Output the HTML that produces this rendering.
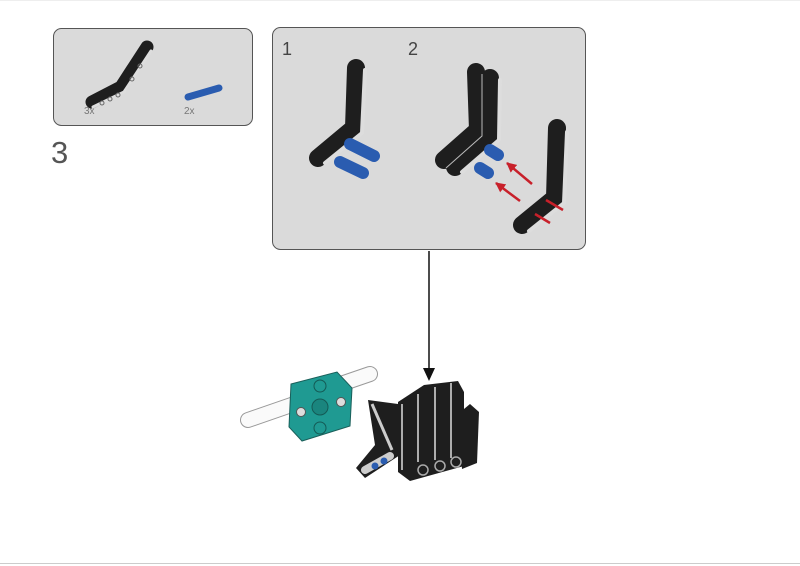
<!DOCTYPE html>
<html><head><meta charset="utf-8"><style>
html,body{margin:0;padding:0;background:#fff;}
svg{display:block;}
text{font-family:"Liberation Sans",sans-serif;}
</style></head><body>
<svg width="800" height="566" viewBox="0 0 800 566" xmlns="http://www.w3.org/2000/svg">
<defs>
<marker id="ah" viewBox="0 0 10 10" refX="9" refY="5" markerWidth="4" markerHeight="4" orient="auto"><path d="M0,0L10,5L0,10z" fill="#c8202a"/></marker>
</defs>
<rect width="800" height="566" fill="#fff"/>
<line x1="0" y1="563.5" x2="800" y2="563.5" stroke="#ccc"/>
<line x1="0" y1="0.5" x2="800" y2="0.5" stroke="#eee"/>

<!-- Panel 1 -->
<rect x="53.5" y="28.5" width="199" height="97" rx="8" fill="#dadada" stroke="#555"/>
<polyline points="92,102 121,87 147,47" fill="none" stroke="#1e1e1e" stroke-width="13" stroke-linecap="round" stroke-linejoin="round"/>
<polyline points="93,107 124,92 151,51" fill="none" stroke="#ddd" stroke-width="3" stroke-linecap="round" stroke-linejoin="round"/>
<g fill="none" stroke="#666" stroke-width="1"><circle cx="102" cy="103" r="2"/><circle cx="110" cy="99" r="2"/><circle cx="118" cy="95" r="2"/><circle cx="132" cy="79" r="2"/><circle cx="140" cy="66" r="2"/></g>
<line x1="188" y1="97" x2="219" y2="88" stroke="#2a5cb0" stroke-width="7" stroke-linecap="round"/>
<text x="84" y="114" font-size="10" fill="#777">3x</text>
<text x="184" y="114" font-size="10" fill="#777">2x</text>
<text x="51" y="163" font-size="31" fill="#555">3</text>

<!-- Panel 2 -->
<rect x="272.5" y="27.5" width="313" height="222" rx="8" fill="#dadada" stroke="#555"/>
<text x="282" y="55" font-size="18" fill="#444">1</text>
<text x="408" y="55" font-size="18" fill="#444">2</text>
<!-- step1 beam -->
<polyline points="318,158 354,128 356,68" fill="none" stroke="#1e1e1e" stroke-width="18" stroke-linecap="round" stroke-linejoin="round"/>
<polyline points="325,163 362,133 365,70" fill="none" stroke="#ddd" stroke-width="4" stroke-linecap="round" stroke-linejoin="round"/>
<line x1="350" y1="144" x2="374" y2="156" stroke="#2a5cb0" stroke-width="12" stroke-linecap="round"/>
<line x1="340" y1="162" x2="363" y2="173" stroke="#2a5cb0" stroke-width="12" stroke-linecap="round"/>
<!-- step2 double beam -->
<polyline points="444,160 478,130 476,72" fill="none" stroke="#1e1e1e" stroke-width="18" stroke-linecap="round" stroke-linejoin="round"/>
<polyline points="455,167 490,136 490,78" fill="none" stroke="#1e1e1e" stroke-width="18" stroke-linecap="round" stroke-linejoin="round"/>
<polyline points="446,168 482,136 482,74" fill="none" stroke="#bbb" stroke-width="1"/>
<polyline points="462,172 499,140 500,80" fill="none" stroke="#ddd" stroke-width="4" stroke-linecap="round" stroke-linejoin="round"/>
<line x1="490" y1="150" x2="498" y2="155" stroke="#2a5cb0" stroke-width="12" stroke-linecap="round"/>
<line x1="480" y1="168" x2="488" y2="173" stroke="#2a5cb0" stroke-width="12" stroke-linecap="round"/>
<!-- right beam -->
<polyline points="522,225 555,198 557,128" fill="none" stroke="#1e1e1e" stroke-width="18" stroke-linecap="round" stroke-linejoin="round"/>
<polyline points="529,231 564,203 567,132" fill="none" stroke="#ddd" stroke-width="4" stroke-linecap="round" stroke-linejoin="round"/>
<!-- red arrows -->
<g stroke="#c8202a" stroke-width="2.5">
<line x1="532" y1="184" x2="507" y2="163" marker-end="url(#ah)"/>
<line x1="520" y1="201" x2="496" y2="183" marker-end="url(#ah)"/>
<line x1="563" y1="210" x2="546" y2="200"/>
<line x1="550" y1="223" x2="535" y2="214"/>
</g>

<!-- connector arrow -->
<line x1="429" y1="251" x2="429" y2="372" stroke="#111" stroke-width="1.5"/>
<path d="M423,368 L435,368 L429,381 z" fill="#111"/>

<!-- bottom assembly -->
<g>
<line x1="248" y1="420" x2="300" y2="402" stroke="#999" stroke-width="16" stroke-linecap="round"/>
<line x1="248" y1="420" x2="300" y2="402" stroke="#fafafa" stroke-width="14" stroke-linecap="round"/>
<line x1="335" y1="386" x2="370" y2="374" stroke="#999" stroke-width="16" stroke-linecap="round"/>
<line x1="335" y1="386" x2="370" y2="374" stroke="#fafafa" stroke-width="14" stroke-linecap="round"/>
<!-- back beam -->
<path d="M368,400 L398,404 L400,455 L365,478 L356,468 L375,445 z" fill="#1e1e1e"/>
<line x1="365" y1="470" x2="390" y2="456" stroke="#ccc" stroke-width="8" stroke-linecap="round"/>
<circle cx="375" cy="466" r="3.5" fill="#2a5cb0"/><circle cx="384" cy="461" r="3.5" fill="#2a5cb0"/>
<line x1="372" y1="404" x2="392" y2="450" stroke="#ccc" stroke-width="3"/>
<!-- teal block -->
<path d="M291,384 L337,372 L352,388 L350,426 L302,441 L289,427 z" fill="#1f9a92" stroke="#1a5f5a"/>
<circle cx="320" cy="407" r="8" fill="#1a857e" stroke="#145a55"/>
<circle cx="320" cy="386" r="6" fill="none" stroke="#145a55"/>
<circle cx="320" cy="428" r="6" fill="none" stroke="#145a55"/>
<circle cx="301" cy="412" r="4.5" fill="#ddd" stroke="#555"/>
<circle cx="341" cy="402" r="4.5" fill="#ddd" stroke="#555"/>
<!-- front black stacked beams -->
<path d="M398,402 L424,385 L458,381 L464,392 L464,466 L410,481 L398,472 z" fill="#1e1e1e"/>
<path d="M458,414 L470,404 L479,412 L477,463 L462,469 z" fill="#1e1e1e"/>
<g stroke="#ddd" stroke-width="1.5" fill="none">
<path d="M418,394 L418,462"/><path d="M435,387 L435,460"/><path d="M451,383 L451,458"/>
<path d="M402,404 L402,470"/>
</g>
<g fill="none" stroke="#aaa" stroke-width="1.5">
<circle cx="423" cy="470" r="5"/><circle cx="440" cy="466" r="5"/><circle cx="456" cy="462" r="5"/>
</g>
</g>
</svg>
</body></html>
